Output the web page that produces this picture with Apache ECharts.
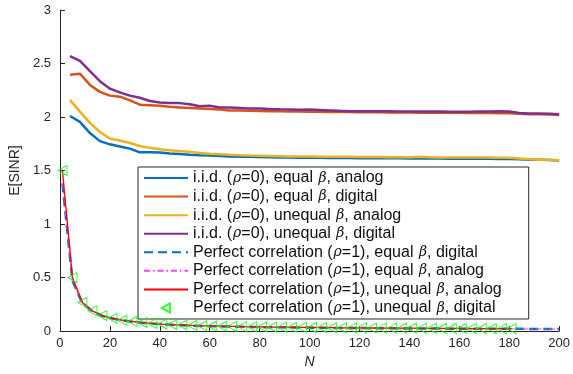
<!DOCTYPE html>
<html>
<head>
<meta charset="utf-8">
<script src="https://cdn.jsdelivr.net/npm/echarts@6/dist/echarts.min.js"></script>
<style>html,body{margin:0;padding:0;background:#fff;}#c{width:573px;height:374px;}</style>
</head>
<body>
<div id="c"></div>
<script>
// ---- data ----
var nIid = [4,8,12,16,20,24,28,32,36,40,44,48,52,56,60,64,68,72,76,80,84,88,92,96,100,104,108,112,116,120,124,128,132,136,140,144,148,152,156,160,164,168,172,176,180,184,188,192,196,200];
var iidEqualAnalog = [2.01,1.955,1.85,1.775,1.745,1.725,1.705,1.67,1.67,1.668,1.66,1.655,1.648,1.642,1.64,1.635,1.632,1.63,1.628,1.626,1.625,1.623,1.622,1.62,1.62,1.619,1.618,1.617,1.617,1.616,1.615,1.615,1.614,1.614,1.613,1.613,1.612,1.612,1.611,1.611,1.61,1.61,1.61,1.609,1.609,1.605,1.602,1.6,1.598,1.595];
var iidEqualDigital = [2.395,2.405,2.3,2.235,2.2,2.19,2.155,2.115,2.11,2.105,2.095,2.09,2.085,2.08,2.075,2.07,2.062,2.06,2.058,2.056,2.055,2.053,2.052,2.051,2.05,2.049,2.048,2.047,2.046,2.045,2.044,2.044,2.043,2.042,2.042,2.041,2.04,2.04,2.039,2.039,2.038,2.038,2.037,2.036,2.036,2.03,2.027,2.025,2.023,2.02];
var iidUnequalAnalog = [2.16,2.05,1.945,1.86,1.8,1.78,1.757,1.73,1.712,1.7,1.69,1.682,1.675,1.665,1.658,1.652,1.647,1.643,1.64,1.638,1.636,1.634,1.632,1.632,1.631,1.63,1.629,1.628,1.628,1.627,1.626,1.626,1.625,1.625,1.625,1.628,1.624,1.623,1.623,1.622,1.622,1.621,1.621,1.62,1.62,1.612,1.606,1.602,1.6,1.597];
var iidUnequalDigital = [2.57,2.525,2.43,2.335,2.265,2.23,2.2,2.18,2.15,2.135,2.13,2.13,2.12,2.1,2.105,2.09,2.09,2.085,2.08,2.08,2.075,2.072,2.07,2.068,2.07,2.066,2.062,2.058,2.055,2.054,2.054,2.053,2.053,2.052,2.052,2.051,2.051,2.051,2.05,2.05,2.05,2.051,2.052,2.054,2.052,2.037,2.032,2.032,2.03,2.026];
var nCorrUnequal = [1,5,9,13,17,21,25,29,33,37,41,45,49,53,57,61,65,69,73,77,81,85,89,93,97,101,105,109,113,117,121,125,129,133,137,141,145,149,153,157,161,165,169,173,177,181];
var corrUnequalAnalog = [1.5,0.5,0.268,0.19,0.145,0.12,0.102,0.09,0.08,0.072,0.066,0.061,0.057,0.053,0.05,0.048,0.046,0.044,0.042,0.04,0.039,0.038,0.037,0.036,0.035,0.034,0.033,0.032,0.031,0.03,0.03,0.029,0.028,0.028,0.027,0.027,0.026,0.026,0.025,0.025,0.025,0.024,0.024,0.024,0.023,0.023];
var corrUnequalDigital = [1.5,0.5,0.268,0.19,0.145,0.12,0.102,0.09,0.08,0.072,0.066,0.061,0.057,0.053,0.05,0.048,0.046,0.044,0.042,0.04,0.039,0.038,0.037,0.036,0.035,0.034,0.033,0.032,0.031,0.03,0.03,0.029,0.028,0.028,0.027,0.027,0.026,0.026,0.025,0.025,0.025,0.024,0.024,0.024,0.023,0.023];
var nCorrEqual = [1,5,9,13,17,21,25,29,33,37,41,45,49,53,57,61,65,69,73,77,81,85,89,93,97,101,105,109,113,117,121,125,129,133,137,141,145,149,153,157,161,165,169,173,177,181,185,189,193,197,200];
var corrEqualDigital = [1.38,0.47,0.26,0.185,0.142,0.117,0.1,0.088,0.078,0.07,0.064,0.059,0.055,0.051,0.048,0.046,0.044,0.042,0.04,0.038,0.037,0.036,0.035,0.034,0.033,0.032,0.031,0.03,0.029,0.028,0.028,0.027,0.026,0.026,0.025,0.025,0.024,0.024,0.023,0.023,0.023,0.022,0.022,0.022,0.021,0.021,0.021,0.02,0.02,0.02,0.02];
var corrEqualAnalog = [1.38,0.47,0.26,0.185,0.142,0.117,0.1,0.088,0.078,0.07,0.064,0.059,0.055,0.051,0.048,0.046,0.044,0.042,0.04,0.038,0.037,0.036,0.035,0.034,0.033,0.032,0.031,0.03,0.029,0.028,0.028,0.027,0.026,0.026,0.025,0.025,0.024,0.024,0.023,0.023,0.023,0.022,0.022,0.022,0.021,0.021,0.021,0.02,0.02,0.02,0.02];
var xTicks = [0,20,40,60,80,100,120,140,160,180,200];
var yTicks = [0,0.5,1,1.5,2,2.5,3];
var seriesNames = [
  'i.i.d. (ρ=0), equal β, analog',
  'i.i.d. (ρ=0), equal β, digital',
  'i.i.d. (ρ=0), unequal β, analog',
  'i.i.d. (ρ=0), unequal β, digital',
  'Perfect correlation (ρ=1), equal β, digital',
  'Perfect correlation (ρ=1), equal β, analog',
  'Perfect correlation (ρ=1), unequal β, analog',
  'Perfect correlation (ρ=1), unequal β, digital'
];

function zip(xs, ys){ return xs.map(function(x,i){ return [x, ys[i]]; }); }

var FONT = '"Liberation Sans", Arial, Helvetica, sans-serif';
var TXT = '#262626';

function lineSeries(name, xs, ys, color, width, type, z){
  return {
    name: name, type: 'line', data: zip(xs, ys), symbol: 'none', z: z || 2,
    lineStyle: {color: color, width: width, type: type || 'solid'},
    itemStyle: {color: color},
    animation: false
  };
}

var legendData = seriesNames.map(function(n, i){
  return i < 7 ? {name: n, itemStyle: {opacity: 0}} : {name: n};
});

var chart = echarts.init(document.getElementById('c'), null, {renderer: 'canvas'});
chart.setOption({
  animation: false,
  backgroundColor: '#fff',
  grid: {left: 58, right: 10, top: 10, bottom: 36.4, containLabel: false},
  xAxis: {
    type: 'value', min: xTicks[0], max: xTicks[xTicks.length-1], interval: 20,
    name: 'N', nameLocation: 'middle', nameGap: 22,
    nameTextStyle: {fontFamily: FONT, fontSize: 14, fontStyle: 'italic', color: TXT},
    axisLine: {lineStyle: {color: TXT, width: 1}},
    axisTick: {inside: true, length: 5, lineStyle: {color: TXT}},
    axisLabel: {fontFamily: FONT, fontSize: 13, color: TXT, margin: 6},
    splitLine: {show: false}
  },
  yAxis: {
    type: 'value', min: yTicks[0], max: yTicks[yTicks.length-1], interval: 0.5,
    name: 'E[SINR]', nameLocation: 'middle', nameGap: 32,
    nameTextStyle: {fontFamily: FONT, fontSize: 14, color: TXT},
    axisLine: {show: true, lineStyle: {color: TXT, width: 1}},
    axisTick: {show: true, inside: true, length: 5, lineStyle: {color: TXT}},
    axisLabel: {fontFamily: FONT, fontSize: 13, color: TXT, margin: 9},
    splitLine: {show: false}
  },
  legend: {
    orient: 'vertical', left: 138, top: 167,
    backgroundColor: '#fff', borderColor: TXT, borderWidth: 1,
    padding: [3, 27, 3, 5], itemWidth: 44, itemHeight: 9, itemGap: 2.57,
    data: legendData,
    formatter: function(name){
      return name.split(/(ρ|β)/).map(function(s){
        if (s === 'ρ' || s === 'β') return '{g|' + s + '}';
        return s ? '{n|' + s + '}' : '';
      }).join('');
    },
    textStyle: {
      fontFamily: FONT, fontSize: 16, color: TXT, lineHeight: 16,
      rich: {
        n: {fontFamily: FONT, fontSize: 16, color: '#111', lineHeight: 16},
        g: {fontFamily: '"DejaVu Serif", serif', fontSize: 14, fontStyle: 'italic', color: '#111', lineHeight: 16, padding: [0, 0, 0, 1]}
      }
    }
  },
  series: [
    lineSeries(seriesNames[0], nIid, iidEqualAnalog, '#0072BD', 2.5),
    lineSeries(seriesNames[1], nIid, iidEqualDigital, '#D95319', 2.5),
    lineSeries(seriesNames[2], nIid, iidUnequalAnalog, '#EDB120', 2.5),
    lineSeries(seriesNames[3], nIid, iidUnequalDigital, '#7E2F8E', 2.5),
    lineSeries(seriesNames[4], nCorrEqual, corrEqualDigital, '#0072BD', 2.5, [9, 5]),
    lineSeries(seriesNames[5], nCorrEqual, corrEqualAnalog, '#FF40FF', 1, [6, 3, 1.5, 3]),
    lineSeries(seriesNames[6], nCorrUnequal, corrUnequalAnalog, '#FF0000', 1.3),
    {
      name: seriesNames[7], type: 'scatter', data: zip(nCorrUnequal, corrUnequalDigital),
      symbol: 'path://M0,5 L9,0 L9,10 Z', symbolSize: [9, 10], z: 4,
      itemStyle: {color: 'rgba(0,0,0,0)', borderColor: '#00FF00', borderWidth: 1},
      animation: false
    }
  ]
});
</script>
</body>
</html>
